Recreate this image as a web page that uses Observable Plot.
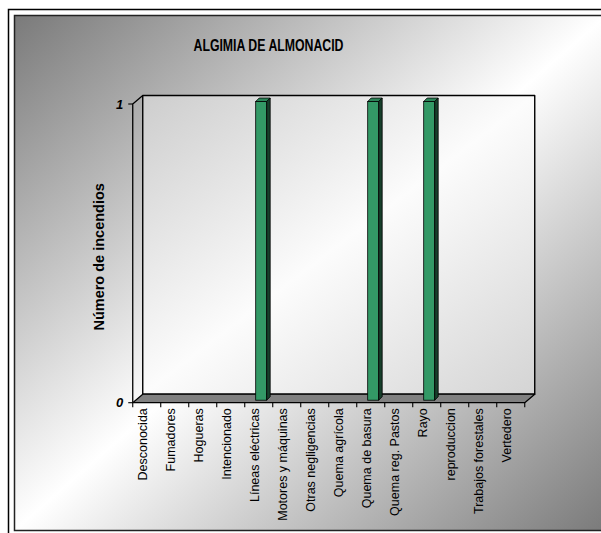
<!DOCTYPE html>
<html><head><meta charset="utf-8">
<script src="https://cdn.jsdelivr.net/npm/d3@7"></script>
<script src="https://cdn.jsdelivr.net/npm/@observablehq/plot@0.6"></script>
<style>body{margin:0;background:#fff} svg{display:block}</style>
</head><body><div id="chart"></div>
<script>
const title = "ALGIMIA DE ALMONACID";
const yLabel = "Número de incendios";
const categories = ["Desconocida","Fumadores","Hogueras","Intencionado","Líneas eléctricas","Motores y máquinas","Otras negligencias","Quema agrícola","Quema de basura","Quema reg. Pastos","Rayo","reproduccion","Trabajos forestales","Vertedero"];
const counts = [0,0,0,0,1,0,0,0,1,0,1,0,0,0];
const yTicks = [0, 1];
const data = categories.map((c, i) => ({cause: c, count: counts[i]}));

const W = 601, H = 533, ML = 131.7, MR = 75.3, MT = 104, MB = 130.3;
const DX = 10, DY = -8.5;          // depth of the 3D box
const PAD_IN = 0.59, PAD_OUT = PAD_IN / 2;
const BAR_DX = 2.7, BAR_DY = -2.5, BAR_D = 3.5;
const FONT = "Liberation Sans, Arial, Helvetica, sans-serif";

function bandInfo(x) {
  const step = x(categories[1]) - x(categories[0]);
  const bw = typeof x.bandwidth === "function" ? x.bandwidth() : step * (1 - PAD_IN);
  const start = x(categories[0]) - PAD_OUT * step;
  return {step, bw, start};
}

function backgroundMark() {
  const g = d3.create("svg:g");
  const lg = g.append("defs").append("linearGradient")
    .attr("id", "bgGrad").attr("x1", 0).attr("y1", 0).attr("x2", 1).attr("y2", 1);
  lg.append("stop").attr("offset", 0).attr("stop-color", "#7a7a7a");
  lg.append("stop").attr("offset", 0.5).attr("stop-color", "#ffffff");
  lg.append("stop").attr("offset", 1).attr("stop-color", "#7a7a7a");
  const wg = g.select("defs").append("linearGradient")
    .attr("id", "wallGrad").attr("x1", 0).attr("y1", 0).attr("x2", 1).attr("y2", 1);
  wg.append("stop").attr("offset", 0).attr("stop-color", "#cdcdcd");
  wg.append("stop").attr("offset", 0.5).attr("stop-color", "#fcfcfc");
  wg.append("stop").attr("offset", 1).attr("stop-color", "#d4d4d4");
  g.append("path").attr("d", "M8.5,533V9.5H601").attr("fill", "none")
    .attr("stroke", "#000").attr("stroke-width", 1.5);
  g.append("rect").attr("x", 14.5).attr("y", 15.5).attr("width", 592).attr("height", 515)
    .attr("fill", "url(#bgGrad)").attr("stroke", "#222").attr("stroke-width", 1.5);
  return g.node();
}

function boxMark(index, scales) {
  const {x, y} = scales;
  const {step, start} = bandInfo(x);
  const x0 = start, x1 = start + step * categories.length;
  const yT = y(d3.max(yTicks)), yB = y(0);
  const g = d3.create("svg:g").attr("stroke", "#000").attr("stroke-linejoin", "round");
  // back wall
  g.append("rect").attr("x", x0 + DX).attr("y", yT + DY).attr("width", x1 - x0).attr("height", yB - yT)
    .attr("fill", "url(#wallGrad)").attr("stroke-width", 1.4);
  // floor
  g.append("path").attr("d", `M${x0},${yB}L${x1},${yB}L${x1 + DX},${yB + DY}L${x0 + DX},${yB + DY}Z`)
    .attr("fill", "#808080").attr("stroke-width", 1.2);
  // left side wall outline
  g.append("path").attr("d", `M${x0},${yB}V${yT}L${x0 + DX},${yT + DY}`).attr("fill", "none").attr("stroke-width", 1.3);
  return g.node();
}

function barFacesMark(index, scales) {
  const {x, y} = scales;
  const {bw} = bandInfo(x);
  const g = d3.create("svg:g").attr("stroke", "#000").attr("stroke-width", 0.8).attr("stroke-linejoin", "round");
  for (const d of data.filter(d => d.count > 0)) {
    const xL = x(d.cause) + BAR_DX, xR = xL + bw;
    const yT = y(d.count) + BAR_DY, yB = y(0) + BAR_DY;
    g.append("path").attr("d", `M${xL},${yT}L${xR},${yT}L${xR + BAR_D},${yT - BAR_D}L${xL + BAR_D},${yT - BAR_D}Z`)
      .attr("fill", "#2b8458");
    g.append("path").attr("d", `M${xR},${yT}L${xR + BAR_D},${yT - BAR_D}L${xR + BAR_D},${yB - BAR_D}L${xR},${yB}Z`)
      .attr("fill", "#173f2b");
  }
  return g.node();
}

function axisTicksMark(index, scales) {
  const {x, y} = scales;
  const {step, start} = bandInfo(x);
  const yB = y(0);
  const g = d3.create("svg:g").attr("stroke", "#000").attr("stroke-width", 1.1);
  for (let i = 0; i <= categories.length; i++) {
    const bx = start + i * step;
    g.append("line").attr("x1", bx).attr("x2", bx).attr("y1", yB).attr("y2", yB + 4.5);
  }
  for (const t of yTicks) {
    g.append("line").attr("x1", start - 4.5).attr("x2", start).attr("y1", y(t)).attr("y2", y(t));
  }
  return g.node();
}

const chart = Plot.plot({
  width: W, height: H,
  marginLeft: ML, marginRight: MR, marginTop: MT, marginBottom: MB,
  style: {fontFamily: FONT, background: "transparent", color: "#000"},
  x: {type: "band", domain: categories, paddingInner: PAD_IN, paddingOuter: PAD_OUT, axis: null},
  y: {domain: [0, 1], axis: null},
  marks: [
    backgroundMark,
    boxMark,
    Plot.barY(data, {filter: d => d.count > 0, x: "cause", y: "count", dx: BAR_DX, dy: BAR_DY,
      fill: "#339966", stroke: "#000", strokeWidth: 0.8}),
    barFacesMark,
    axisTicksMark,
    Plot.text(categories, {x: d => d, frameAnchor: "bottom", rotate: -90, textAnchor: "end",
      dy: 5, dx: -0.5, fontSize: 12.5, fill: "#000"}),
    Plot.text(yTicks, {y: d => d, frameAnchor: "left", dx: -9, textAnchor: "end",
      fontSize: 13, fontWeight: "bold", fontStyle: "italic", fill: "#000"}),
    Plot.text([yLabel], {frameAnchor: "left", textAnchor: "middle", dx: -32.7, dy: 3, rotate: -90,
      fontSize: 14.5, fontWeight: "bold", fill: "#000"}),
    Plot.text([title], {frameAnchor: "top", lineAnchor: "middle", dx: -60.7, dy: -59,
      fontSize: 16, fontWeight: "bold", fill: "#000"})
  ]
});

d3.select(chart).selectAll("text").filter(function() { return this.textContent === title; })
  .attr("textLength", 150).attr("lengthAdjust", "spacingAndGlyphs");

document.getElementById("chart").appendChild(chart);
</script>
</body></html>
